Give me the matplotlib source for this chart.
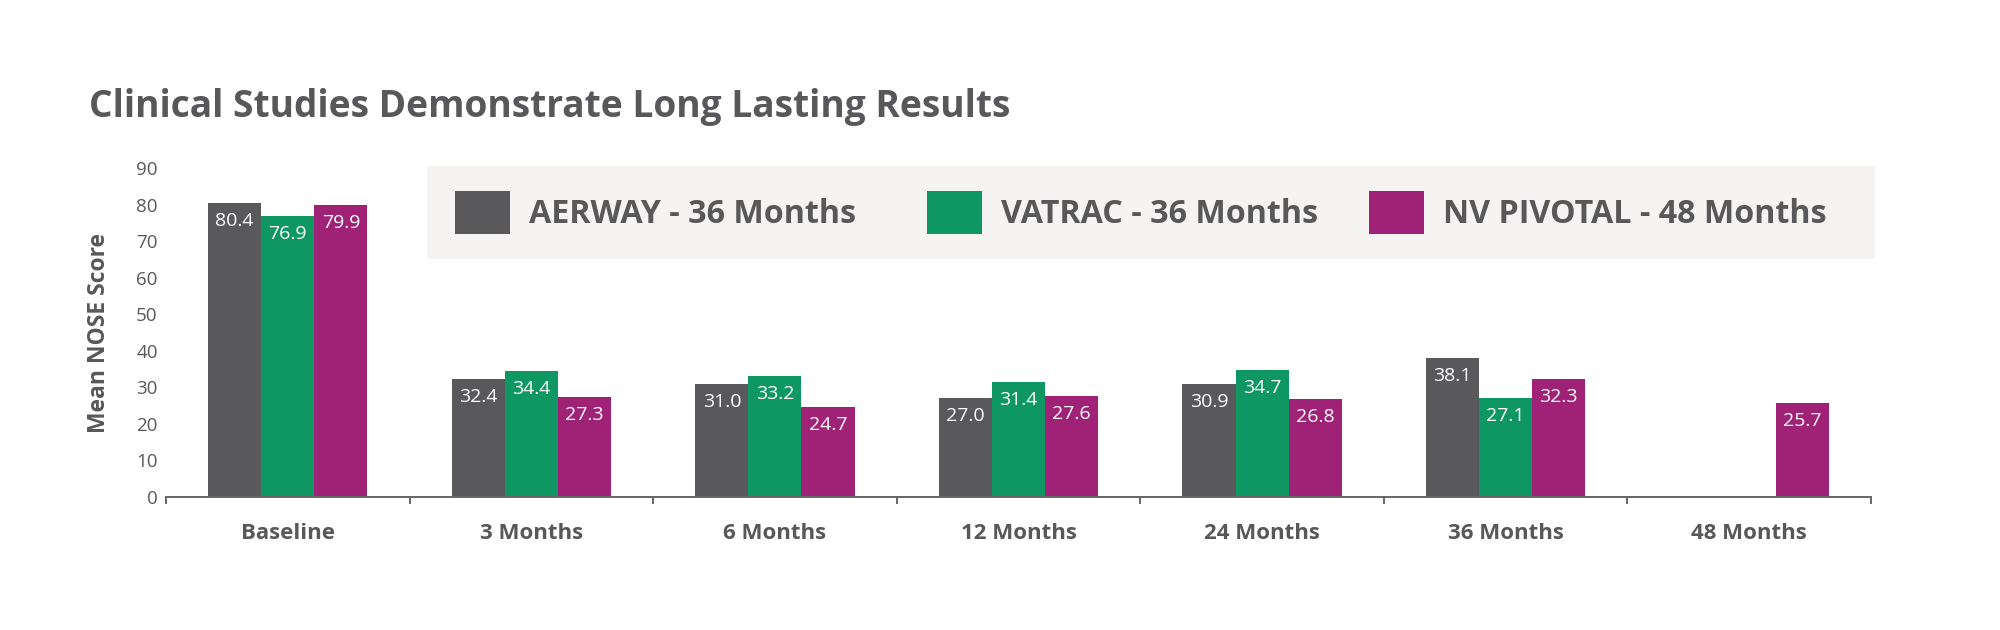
import numpy as np
import matplotlib
matplotlib.use("Agg")
import matplotlib.pyplot as plt
from matplotlib.patches import Patch, Rectangle

plt.rcParams['font.family'] = ['Open Sans', 'DejaVu Sans']

# data
categories = ['Baseline', '3 Months', '6 Months', '12 Months', '24 Months', '36 Months', '48 Months']
aerway = [80.4, 32.4, 31.0, 27.0, 30.9, 38.1, None]
vatrac = [76.9, 34.4, 33.2, 31.4, 34.7, 27.1, None]
nv_pivotal = [79.9, 27.3, 24.7, 27.6, 26.8, 32.3, 25.7]
series_names = ['AERWAY - 36 Months', 'VATRAC - 36 Months', 'NV PIVOTAL - 48 Months']
y_ticks = [0, 10, 20, 30, 40, 50, 60, 70, 80, 90]

colors = ['#59595b', '#0f9763', '#9f2277']
text_gray = '#58585a'

fig = plt.figure(figsize=(20, 6.3), dpi=100)
ax = fig.add_axes([0.083, 0.2111, 0.8525, 0.5222])

x = np.arange(len(categories))
w = 0.218
for j, vals in enumerate([aerway, vatrac, nv_pivotal]):
    for i, v in enumerate(vals):
        if v is None:
            continue
        xi = x[i] + (j - 1) * w
        ax.bar(xi, v, width=w, color=colors[j], edgecolor='none')
        ax.annotate('%.1f' % v, (xi, v), xytext=(0, -13), textcoords='offset points',
                    ha='center', va='center', color='white', fontsize=14)

ax.set_xlim(-0.5, len(categories) - 0.5)
ax.set_ylim(0, 90)
ax.set_yticks(y_ticks)
ax.tick_params(axis='y', length=0, pad=6, labelsize=13.5, labelcolor=text_gray)

ax.set_xticks(np.arange(len(categories) + 1) - 0.5)
ax.set_xticklabels([])
ax.tick_params(axis='x', which='major', length=5, width=1.4, color='#666666', direction='out')
ax.set_xticks(x, minor=True)
ax.set_xticklabels(categories, minor=True, fontsize=16, fontweight='bold', color=text_gray)
ax.tick_params(axis='x', which='minor', length=0, pad=19)

for s in ['left', 'top', 'right']:
    ax.spines[s].set_visible(False)
ax.spines['bottom'].set_color('#666666')
ax.spines['bottom'].set_linewidth(1.4)

ax.set_ylabel('Mean NOSE Score', fontsize=16.5, fontweight='bold', color=text_gray, labelpad=18)

fig.text(89 / 2000, 1 - 117 / 630, 'Clinical Studies Demonstrate Long Lasting Results',
         fontsize=26.75, fontweight='bold', color=text_gray, ha='left', va='baseline')

# legend background panel
fig.patches.append(Rectangle((427 / 2000, 1 - 259 / 630), 1448 / 2000, 93 / 630,
                             transform=fig.transFigure, facecolor='#f5f4f2',
                             edgecolor='none', zorder=0))

# one legend entry per series, placed where the reference has them
legend_x = [455, 927, 1369]
for c, name, lx in zip(colors, series_names, legend_x):
    leg = fig.legend([Patch(facecolor=c, edgecolor='none')], [name], loc='center left',
                     bbox_to_anchor=(lx / 2000, 1 - 212.5 / 630), borderaxespad=0,
                     frameon=False, prop={'size': 23.2, 'weight': 'bold'},
                     handlelength=1.7, handleheight=1.7, handletextpad=0.6, borderpad=0)
    for t in leg.get_texts():
        t.set_color(text_gray)

fig.savefig('out.png', dpi=100, facecolor='white')
